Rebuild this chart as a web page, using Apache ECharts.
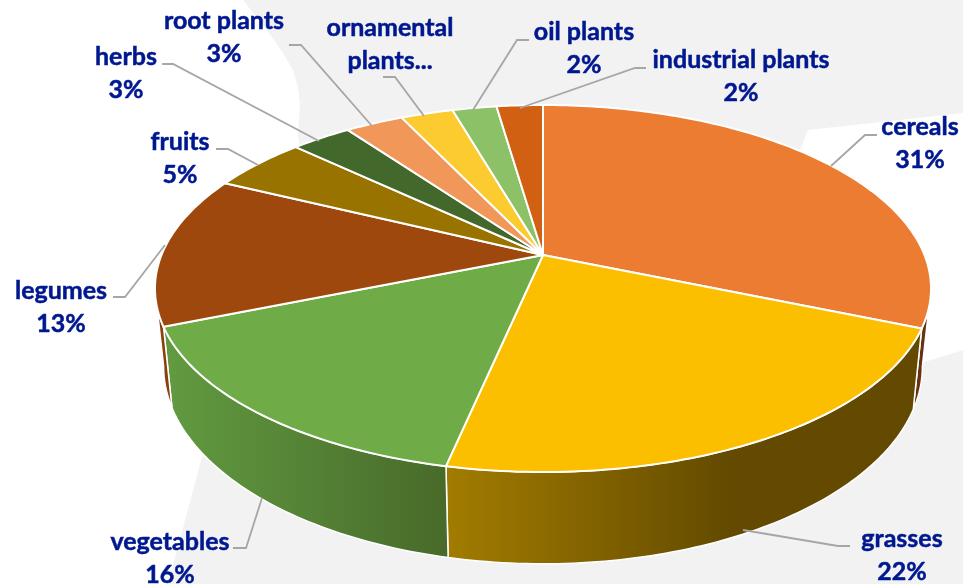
<!DOCTYPE html>
<html>
<head>
<meta charset="utf-8">
<style>html,body{margin:0;padding:0;background:#fff}#c{width:963px;height:584px}</style>
<script src="https://cdn.jsdelivr.net/npm/echarts@6/dist/echarts.min.js"></script>
</head>
<body>
<div id="c"></div>
<script>
// ---- data ----
const categories = ['cereals','grasses','vegetables','legumes','fruits','herbs','root plants','ornamental\nplants...','oil plants','industrial plants'];
const values = [31.3, 22.05, 15.5, 13.35, 4.8, 3, 2.9, 2.6, 2.2, 2.3];
const colors = ['#EB7C32','#FBBF00','#6FAB47','#9E480E','#997300','#43682B','#F1975A','#FCCB30','#8CC168','#D26012'];
const hidePercent = [7];

// ---- layout ----
const cx = 543;
const top3d = {y0:255, A:381.5, B:177.4, k:0.1826};
const bot3d = {y0:330.5, A:373, B:190.7, k:0.1826};
const wallFrom = 100.5, wallTo = 259.5;
const wallColors = {
  0:['#6A3012','#6A3012'],
  1:['#A27C00','#634A00'],
  2:['#619A40','#486A2A'],
  3:['#8A3F0C','#8A3F0C']
};
const wallGradX = {1:[447,730],2:[170,447]};
const labelAt = [[920,143],[902,555],[170,558],[61,307],[180,158],[126,73],[224,37],[390,44],[584,48],[741,76]];
const leaders = [
  [[877,135],[865,135],[831,166]],
  [[850,546],[838,546],[743,530]],
  [[233,548],[246,548],[262,498]],
  [[113,297],[125,297],[165,245]],
  [[216,149],[228,149],[258,165]],
  [[162,64],[173,64],[319,141]],
  [[289,45],[301,45],[372,126]],
  [[383,77],[395,77],[424,116]],
  [[529,40],[517,40],[473,110]],
  [[646,68],[635,68],[520,108]]
];

function proj(p, deg){
  const t = deg*Math.PI/180, w = 1 + p.k*Math.cos(t);
  return [cx + p.A*Math.sin(t)/w, p.y0 - p.B*Math.cos(t)/w];
}
const total = values.reduce((a,b)=>a+b,0);
const starts = [];
values.reduce((acc,v,i)=>{starts[i]=acc;return acc+v;},0);
function arc(p,a,b){
  const pts=[], n=Math.max(2,Math.ceil(Math.abs(b-a)));
  for(let i=0;i<=n;i++) pts.push(proj(p,a+(b-a)*i/n));
  return pts;
}
const seriesData = categories.map((c,i)=>({name:c,value:[values[i],starts[i]]}));

function renderWall(params, api){
  const i = params.dataIndex;
  const s = api.value(1)/total*360, e = (api.value(1)+api.value(0))/total*360;
  const a = Math.max(s,wallFrom), b = Math.min(e,wallTo);
  if(b<=a) return null;
  const pts = arc(top3d,a,b).concat(arc(bot3d,b,a));
  const wc = wallColors[i] || [colors[i],colors[i]];
  const g = wallGradX[i] || [0,963];
  return {type:'polygon',shape:{points:pts},style:{
    fill:new echarts.graphic.LinearGradient(g[0],0,g[1],0,[{offset:0,color:wc[0]},{offset:1,color:wc[1]}],true),
    stroke:'#fff',lineWidth:1.5,lineJoin:'round'}};
}
function renderTop(params, api){
  const i = params.dataIndex;
  const s = api.value(1)/total*360, e = (api.value(1)+api.value(0))/total*360;
  const pts = [[cx,top3d.y0]].concat(arc(top3d,s,e));
  return {type:'polygon',shape:{points:pts},style:{fill:colors[i],stroke:'#fff',lineWidth:2,lineJoin:'round'}};
}
function renderLabel(params, api){
  const i = params.dataIndex;
  const pct = Math.round(api.value(0)/total*100)+'%';
  const txt = hidePercent.includes(i) ? categories[i] : categories[i]+'\n'+pct;
  return {type:'group',children:[
    {type:'polyline',shape:{points:leaders[i]},style:{fill:null,stroke:'#A6A6A6',lineWidth:1.8}},
    {type:'text',x:labelAt[i][0],y:labelAt[i][1],style:{
      text:txt,fill:'#00188F',stroke:'#00188F',lineWidth:0.5,font:'bold 25px Lato',lineHeight:33,align:'center',verticalAlign:'middle'}}
  ]};
}
const bgPoints = [[243,0],[255,15],[267,30],[281,50],[293,70],[298,88],[300,105],[298,135],[320,300],[202,457],[168,584],[963,584],[963,350],[915,365],[790,175],[800,150],[808,130],[963,113],[963,0]];
const chart = echarts.init(document.getElementById('c'),null,{renderer:'canvas'});
chart.setOption({
  animation:false,
  backgroundColor:'#fff',
  tooltip:{show:false},
  graphic:{elements:[{type:'polygon',z:0,silent:true,shape:{points:bgPoints},style:{fill:'#F2F2F2'}}]},
  series:[
    {type:'custom',name:'walls',coordinateSystem:'none',z:2,silent:true,renderItem:renderWall,data:seriesData},
    {type:'custom',name:'tops',coordinateSystem:'none',z:3,silent:true,renderItem:renderTop,data:seriesData},
    {type:'custom',name:'labels',coordinateSystem:'none',z:4,silent:true,renderItem:renderLabel,data:seriesData}
  ]
});
</script>
</body>
</html>
